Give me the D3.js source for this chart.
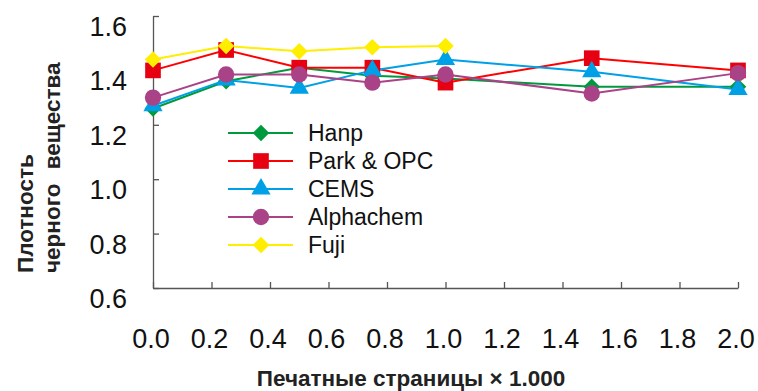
<!DOCTYPE html>
<html>
<head>
<meta charset="utf-8">
<script src="https://cdn.jsdelivr.net/npm/d3@7"></script>
<style>
  body { margin: 0; background: #fff; }
  svg { font-family: "Liberation Sans", Arial, sans-serif; }
</style>
</head>
<body>
<svg width="758" height="391"></svg>
<script>
// pages x 1000
const pages = [0, 0.25, 0.5, 0.75, 1.0, 1.5, 2.0];
const names = ["Hanp", "Park & OPC", "CEMS", "Alphachem", "Fuji"];
const hanp      = [1.26, 1.36, 1.41, 1.38, 1.37, 1.34, 1.34];
const parkOpc   = [1.40, 1.475, 1.41, 1.41, 1.355, 1.445, 1.40];
const cems      = [1.27, 1.365, 1.335, 1.40, 1.44, 1.395, 1.33];
const alphachem = [1.30, 1.385, 1.385, 1.355, 1.385, 1.315, 1.39];
const fuji      = [1.44, 1.49, 1.47, 1.485, 1.49];
const xTicks = [0, 0.2, 0.4, 0.6, 0.8, 1.0, 1.2, 1.4, 1.6, 1.8, 2.0];
const yTicks = [0.6, 0.8, 1.0, 1.2, 1.4, 1.6];

const series = [
  {name: names[0], values: hanp,      line: "#009a3e", fill: "#009a3e", shape: "diamond"},
  {name: names[1], values: parkOpc,   line: "#ff0000", fill: "#e60012", shape: "square"},
  {name: names[2], values: cems,      line: "#00a0e6", fill: "#00a0e6", shape: "triangle"},
  {name: names[3], values: alphachem, line: "#a94287", fill: "#a94287", shape: "circle"},
  {name: names[4], values: fuji,      line: "#ffee00", fill: "#ffee00", shape: "diamond"}
];

const svg = d3.select('svg');
const x = d3.scaleLinear().domain([0, 2]).range([153, 738]);
const y = d3.scaleLinear().domain([0.6, 1.6]).range([288, 16]);

const symbols = {
  diamond: d3.symbol().type(d3.symbolDiamond2).size(175),
  square: d3.symbol().type(d3.symbolSquare).size(245),
  triangle: d3.symbol().type(d3.symbolTriangle).size(160),
  circle: d3.symbol().type(d3.symbolCircle).size(210)
};

// axes, ticks point inward
const axisColor = "#555";
svg.append('g')
  .attr('transform', `translate(${x(0)},0)`)
  .call(d3.axisLeft(y).tickValues(yTicks).tickSizeInner(-6).tickSizeOuter(0).tickFormat(''));
svg.append('g')
  .attr('transform', `translate(0,${y(0.6)})`)
  .call(d3.axisBottom(x).tickValues(xTicks).tickSizeInner(-6).tickSizeOuter(0).tickFormat(''));
svg.selectAll('.domain, .tick line').attr('stroke', axisColor).attr('stroke-width', 1.3);

svg.append('g').selectAll('text')
  .data(yTicks).enter().append('text')
  .attr('x', 127)
  .attr('y', d => y(d) + 20)
  .attr('text-anchor', 'end')
  .attr('font-size', 27)
  .attr('fill', '#111')
  .text(d => d.toFixed(1));

svg.append('g').selectAll('text')
  .data(xTicks).enter().append('text')
  .attr('x', d => x(d) - 2)
  .attr('y', 348)
  .attr('text-anchor', 'middle')
  .attr('font-size', 27)
  .attr('fill', '#111')
  .text(d => d.toFixed(1));

svg.append('text')
  .attr('x', 411)
  .attr('y', 386)
  .attr('text-anchor', 'middle')
  .attr('font-size', 22.5)
  .attr('font-weight', 'bold')
  .attr('fill', '#222')
  .text('Печатные страницы × 1.000');

svg.append('text')
  .attr('transform', 'translate(33,273) rotate(-90)')
  .attr('font-size', 22.5)
  .attr('font-weight', 'bold')
  .attr('fill', '#222')
  .text('Плотность');
svg.append('text')
  .attr('transform', 'translate(60,273) rotate(-90)')
  .attr('font-size', 22.5)
  .attr('font-weight', 'bold')
  .attr('fill', '#222')
  .attr('word-spacing', 8)
  .text('черного вещества');

// lines then markers
const line = d3.line().x((d, i) => x(pages[i])).y(d => y(d));

series.forEach(s => {
  svg.append('path')
    .attr('d', line(s.values))
    .attr('fill', 'none')
    .attr('stroke', s.line)
    .attr('stroke-width', 2);
});

series.forEach(s => {
  svg.append('g').selectAll('path')
    .data(s.values).enter().append('path')
    .attr('transform', (d, i) => `translate(${x(pages[i])},${y(d)})`)
    .attr('d', symbols[s.shape])
    .attr('fill', s.fill);
});

// legend
const legend = svg.append('g').attr('transform', 'translate(228,133)');
const rows = legend.selectAll('g')
  .data(series).enter().append('g')
  .attr('transform', (d, i) => `translate(0,${i * 28})`);
rows.append('line')
  .attr('x1', 0).attr('x2', 65)
  .attr('stroke', d => d.line)
  .attr('stroke-width', 2);
rows.append('path')
  .attr('transform', 'translate(33,0)')
  .attr('d', d => symbols[d.shape]())
  .attr('fill', d => d.fill);
rows.append('text')
  .attr('x', 80)
  .attr('y', 8)
  .attr('font-size', 23)
  .attr('fill', '#111')
  .text(d => d.name);
</script>
</body>
</html>
